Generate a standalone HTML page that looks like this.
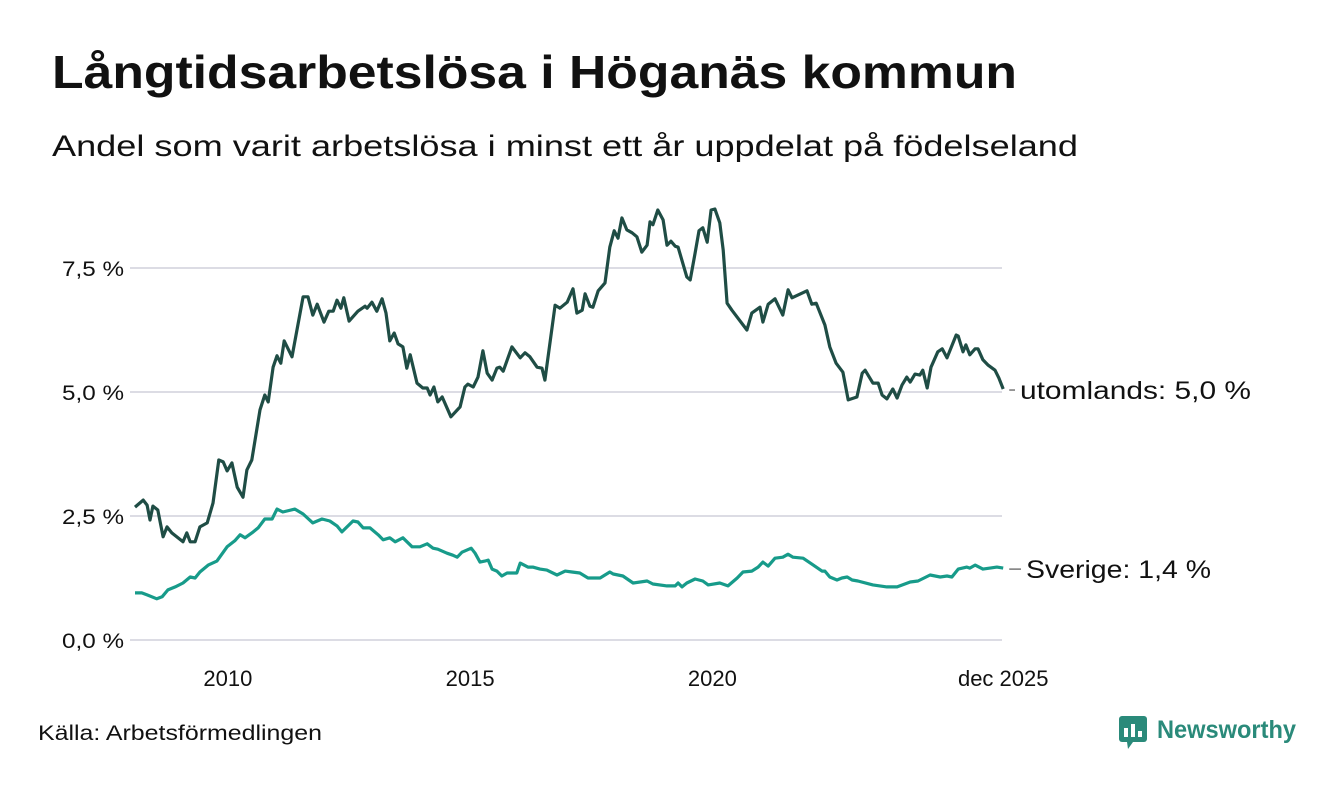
<!DOCTYPE html>
<html><head><meta charset="utf-8"><style>
body{margin:0;background:#fff;width:1340px;height:780px;overflow:hidden;font-family:"Liberation Sans",sans-serif}
</style></head><body>
<svg width="1340" height="780">
<text x="52" y="88" font-size="46" font-weight="bold" fill="#111" textLength="965" lengthAdjust="spacingAndGlyphs">Långtidsarbetslösa i Höganäs kommun</text>
<text x="52" y="156" font-size="30" fill="#111" textLength="1026" lengthAdjust="spacingAndGlyphs">Andel som varit arbetslösa i minst ett år uppdelat på födelseland</text>
<g id="grid"></g><g id="lines"></g>
<text x="38" y="740" font-size="21" fill="#111" textLength="284" lengthAdjust="spacingAndGlyphs">Källa: Arbetsförmedlingen</text>
<g>
<rect x="1119" y="716" width="28" height="26" rx="3" fill="#2a8a7a"/>
<polygon points="1127,742 1133,742 1128,749" fill="#2a8a7a"/>
<rect x="1124" y="728" width="4" height="9" fill="#fff"/><rect x="1131" y="724" width="4" height="13" fill="#fff"/><rect x="1138" y="731" width="4" height="6" fill="#fff"/>
<text x="1157" y="738" font-size="25" font-weight="bold" fill="#2a8a7a" textLength="139" lengthAdjust="spacingAndGlyphs">Newsworthy</text>
</g>
</svg>
<script>
const startYear = 2008;
const yTicks = [0, 2.5, 5, 7.5];
const yTickLabels = ["0,0 %", "2,5 %", "5,0 %", "7,5 %"];
const xTicks = [2010, 2015, 2020, 2025.92];
const xTickLabels = ["2010", "2015", "2020", "dec 2025"];
const abroadT = [0,0.17,0.25,0.31,0.37,0.47,0.58,0.66,0.76,0.99,1.07,1.14,1.24,1.34,1.49,1.61,1.73,1.82,1.90,2.00,2.11,2.23,2.31,2.41,2.58,2.68,2.75,2.85,2.93,3.01,3.08,3.24,3.47,3.57,3.67,3.76,3.90,4.00,4.09,4.17,4.25,4.31,4.42,4.60,4.75,4.79,4.89,4.99,5.10,5.18,5.26,5.35,5.43,5.53,5.61,5.68,5.82,5.94,6.03,6.09,6.17,6.25,6.34,6.52,6.71,6.81,6.87,6.98,7.08,7.18,7.27,7.37,7.47,7.53,7.60,7.78,7.95,8.05,8.15,8.30,8.40,8.46,8.67,8.77,8.92,9.04,9.12,9.23,9.29,9.39,9.45,9.56,9.70,9.80,9.89,9.97,10.05,10.15,10.26,10.36,10.46,10.57,10.63,10.69,10.79,10.90,10.98,11.06,11.15,11.21,11.39,11.46,11.56,11.64,11.72,11.81,11.89,11.97,12.07,12.14,12.22,12.32,12.63,12.73,12.90,12.96,13.07,13.21,13.37,13.48,13.56,13.87,13.97,14.06,14.24,14.34,14.47,14.61,14.72,14.90,15.01,15.07,15.23,15.34,15.42,15.52,15.64,15.73,15.83,15.93,16.00,16.10,16.20,16.26,16.35,16.43,16.57,16.66,16.76,16.95,16.99,17.09,17.15,17.23,17.34,17.40,17.50,17.61,17.75,17.83,17.92];
const abroadV = [2.68,2.82,2.72,2.42,2.70,2.62,2.08,2.28,2.16,1.98,2.16,1.98,1.98,2.28,2.36,2.76,3.63,3.59,3.41,3.57,3.08,2.88,3.43,3.63,4.64,4.94,4.80,5.50,5.73,5.58,6.03,5.71,6.92,6.92,6.55,6.77,6.41,6.63,6.63,6.85,6.69,6.90,6.43,6.63,6.73,6.69,6.81,6.63,6.88,6.59,6.03,6.19,5.97,5.91,5.48,5.75,5.18,5.08,5.08,4.94,5.10,4.80,4.90,4.50,4.70,5.10,5.16,5.10,5.30,5.83,5.38,5.24,5.48,5.50,5.42,5.91,5.69,5.79,5.71,5.50,5.48,5.24,6.75,6.69,6.81,7.08,6.59,6.65,6.98,6.73,6.71,7.04,7.20,7.92,8.25,8.10,8.51,8.27,8.21,8.13,7.82,7.96,8.43,8.37,8.67,8.47,7.96,8.04,7.94,7.92,7.32,7.26,7.80,8.25,8.31,8.02,8.67,8.69,8.41,7.86,6.79,6.65,6.25,6.59,6.71,6.41,6.77,6.88,6.55,7.06,6.90,7.04,6.77,6.79,6.35,5.91,5.58,5.40,4.84,4.90,5.38,5.44,5.18,5.18,4.94,4.86,5.06,4.88,5.14,5.30,5.20,5.36,5.34,5.44,5.08,5.50,5.81,5.87,5.69,6.15,6.13,5.81,5.95,5.75,5.87,5.87,5.65,5.54,5.44,5.28,5.06];
const swedenT = [0,0.14,0.25,0.45,0.56,0.68,0.83,0.99,1.14,1.24,1.34,1.51,1.69,1.90,2.06,2.17,2.27,2.44,2.54,2.68,2.83,2.93,3.05,3.30,3.47,3.67,3.86,4.02,4.17,4.27,4.50,4.60,4.71,4.85,5.02,5.12,5.26,5.37,5.53,5.72,5.88,6.03,6.15,6.25,6.44,6.56,6.65,6.75,6.94,7.02,7.12,7.22,7.29,7.37,7.47,7.57,7.68,7.88,7.95,8.11,8.21,8.36,8.50,8.71,8.88,9.02,9.18,9.35,9.60,9.80,9.87,10.07,10.28,10.57,10.69,10.98,11.15,11.21,11.29,11.39,11.56,11.72,11.83,12.07,12.24,12.43,12.55,12.73,12.86,12.96,13.07,13.21,13.37,13.48,13.58,13.79,13.97,14.18,14.24,14.34,14.49,14.59,14.70,14.80,14.92,15.23,15.52,15.73,16.00,16.16,16.41,16.62,16.76,16.86,16.99,17.17,17.23,17.34,17.50,17.65,17.79,17.92];
const swedenV = [0.95,0.95,0.91,0.83,0.87,1.01,1.07,1.15,1.27,1.25,1.37,1.51,1.59,1.88,2.00,2.12,2.06,2.18,2.26,2.44,2.44,2.64,2.58,2.64,2.54,2.36,2.44,2.40,2.30,2.18,2.40,2.38,2.26,2.26,2.12,2.02,2.06,1.98,2.06,1.88,1.88,1.94,1.85,1.83,1.75,1.71,1.67,1.77,1.85,1.75,1.57,1.59,1.61,1.43,1.39,1.29,1.35,1.35,1.55,1.47,1.47,1.43,1.41,1.31,1.39,1.37,1.35,1.25,1.25,1.37,1.33,1.29,1.15,1.19,1.13,1.09,1.09,1.15,1.07,1.15,1.23,1.19,1.11,1.15,1.09,1.25,1.37,1.39,1.47,1.57,1.49,1.65,1.67,1.73,1.67,1.65,1.53,1.39,1.39,1.27,1.21,1.25,1.27,1.21,1.19,1.11,1.07,1.07,1.17,1.19,1.31,1.27,1.29,1.27,1.43,1.47,1.45,1.51,1.43,1.45,1.47,1.45];
const endLabels = ["utomlands: 5,0 %", "Sverige: 1,4 %"];

const NS = "http://www.w3.org/2000/svg";
const xs = y => 135 + (y - startYear) * 48.45;
const ys = v => 640 - v * 49.6;
function mk(tag, attrs, parent){const e=document.createElementNS(NS,tag);for(const k in attrs)e.setAttribute(k,attrs[k]);parent.appendChild(e);return e;}
const grid=document.getElementById('grid'), lines=document.getElementById('lines');
yTicks.forEach((t,i)=>{
  const l=mk('line',{x1:130,x2:1002,y1:ys(t),y2:ys(t),stroke:'#dcdce4','stroke-width':2},grid);
  
  
  const tx=mk('text',{x:124,y:ys(t)+8,'text-anchor':'end','font-size':21,fill:'#111',textLength:62,lengthAdjust:'spacingAndGlyphs'},grid);
  tx.textContent=yTickLabels[i];
  
  
});
xTicks.forEach((t,i)=>{
  const tx=mk('text',{x:i===3?xs(t):xs(t)-4,y:686,'text-anchor':'middle','font-size':22,fill:'#111'},grid);
  tx.textContent=xTickLabels[i];
  
  
});
function drawLine(T,V,color,name,label,lx,tl){
  const d=T.map((t,i)=>(i?'L':'M')+xs(startYear+t).toFixed(1)+','+ys(V[i]).toFixed(1)).join('');
  const p=mk('path',{d:d,fill:'none',stroke:color,'stroke-width':3.2,'stroke-linejoin':'round'},lines);
  
  
  const last=V[V.length-1], ex=xs(startYear+T[T.length-1]), ey=ys(last);
  mk('line',{x1:ex+6,x2:lx-5,y1:ey+1,y2:ey+1,stroke:'#333','stroke-width':1},lines);
  const tx=mk('text',{x:lx,y:ey+10,'font-size':25,fill:'#111',textLength:tl,lengthAdjust:'spacingAndGlyphs'},lines);
  tx.textContent=label;
  
  
}
drawLine(swedenT,swedenV,'#179b8a','sweden-line',endLabels[1],1026,185);
drawLine(abroadT,abroadV,'#1f4d45','abroad-line',endLabels[0],1020,231);
</script>
</body></html>
